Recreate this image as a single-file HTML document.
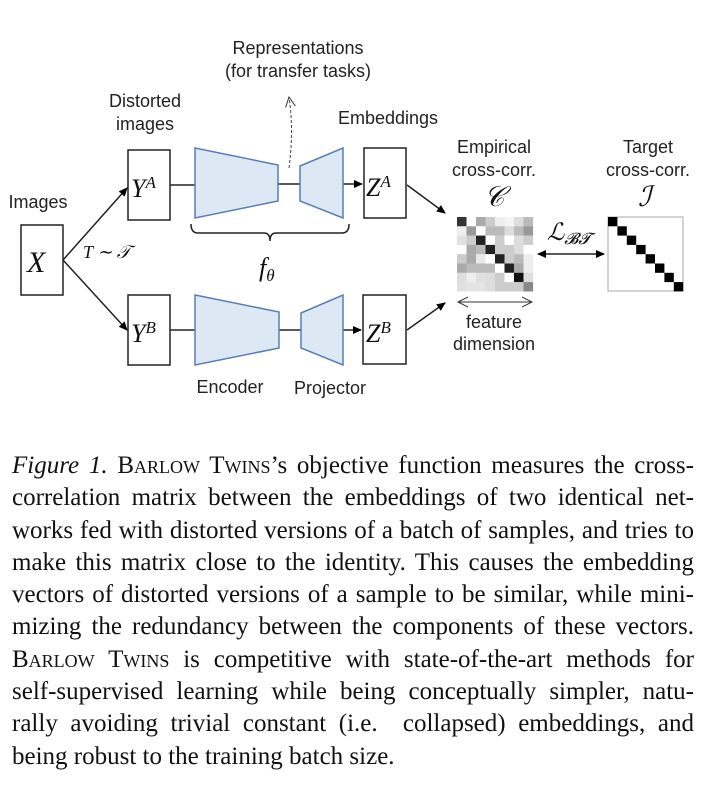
<!DOCTYPE html>
<html><head><meta charset="utf-8"><style>
html,body{margin:0;padding:0;background:#fff;}
body{width:710px;height:790px;position:relative;overflow:hidden;}
.cap{position:absolute;left:12px;width:682px;font-family:"Liberation Serif",serif;font-size:25px;color:#111;line-height:32.3px;}
.cap div{text-align:justify;text-align-last:justify;white-space:nowrap;height:32.3px}
.cap div.l{text-align-last:left}
.sc{font-variant:small-caps}
</style></head><body>
<svg width="710" height="430" style="position:absolute;left:0;top:0" font-family="Liberation Sans, sans-serif" font-size="18" fill="#222">
<defs>
<marker id="ah" markerWidth="10" markerHeight="10" refX="8" refY="5" orient="auto" markerUnits="userSpaceOnUse"><path d="M0,1 L9,5 L0,9 Z" fill="#000"/></marker>
<marker id="ahs" markerWidth="10" markerHeight="10" refX="8" refY="5" orient="auto-start-reverse" markerUnits="userSpaceOnUse"><path d="M0,1 L9,5 L0,9 Z" fill="#000"/></marker>
<marker id="ao" markerWidth="12" markerHeight="12" refX="10" refY="6" orient="auto-start-reverse" markerUnits="userSpaceOnUse"><path d="M0,1 L10,6 L0,11" fill="none" stroke="#333" stroke-width="1"/></marker>
</defs>
<g text-anchor="middle">
<text x="298" y="54">Representations</text>
<text x="298" y="77">(for transfer tasks)</text>
<text x="145" y="107">Distorted</text>
<text x="145" y="130">images</text>
<text x="388" y="124">Embeddings</text>
<text x="38" y="208">Images</text>
<text x="230" y="393">Encoder</text>
<text x="330" y="394">Projector</text>
<text x="494" y="153">Empirical</text>
<text x="494" y="176">cross-corr.</text>
<text x="648" y="153">Target</text>
<text x="648" y="176">cross-corr.</text>
<text x="494" y="328">feature</text>
<text x="494" y="350">dimension</text>
</g>
<g fill="none" stroke="#222" stroke-width="1.5">
<rect x="21" y="225" width="42" height="70"/>
<rect x="128" y="150" width="42" height="70"/>
<rect x="128" y="295" width="42" height="70"/>
<rect x="364" y="148" width="42" height="70"/>
<rect x="363" y="295" width="43" height="69"/>
<line x1="170" y1="185" x2="195" y2="185"/><line x1="278" y1="184" x2="300" y2="184"/>
<line x1="170" y1="330" x2="195" y2="330"/><line x1="279" y1="330" x2="301" y2="330"/>
<line x1="343" y1="184" x2="362" y2="184" marker-end="url(#ah)"/>
<line x1="343" y1="330" x2="361" y2="330" marker-end="url(#ah)"/>
<line x1="63" y1="260" x2="127" y2="188" marker-end="url(#ah)"/>
<line x1="63" y1="260" x2="127" y2="330" marker-end="url(#ah)"/>
<line x1="407" y1="185" x2="445" y2="213" marker-end="url(#ah)"/>
<line x1="407" y1="330" x2="445" y2="303" marker-end="url(#ah)"/>
<path d="M191,224 Q191,233 198,233 L264,233 Q270,233 270,241 Q270,233 276,233 L342,233 Q349,233 349,224"/>
<line x1="538" y1="254" x2="604" y2="254" marker-start="url(#ahs)" marker-end="url(#ahs)"/>
</g>
<path d="M289,168 Q294,130 289,97" fill="none" stroke="#444" stroke-width="1" stroke-dasharray="3,2" marker-end="url(#ao)"/>
<line x1="458" y1="302" x2="532" y2="302" stroke="#333" stroke-width="1" marker-start="url(#ao)" marker-end="url(#ao)"/>
<g fill="#dde8f5" stroke="#5a7db5" stroke-width="1.5">
<polygon points="195,148 278,165 278,201 195,218"/>
<polygon points="300,166 343,148 343,218 300,201"/>
<polygon points="195,295 279,312 279,348 195,365"/>
<polygon points="301,313 343,295 343,365 301,348"/>
</g>
<g font-family="Liberation Serif, serif" font-style="italic" fill="#111">
<text x="27" y="272" font-size="30">X</text>
<text x="131" y="197" font-size="26">Y<tspan font-size="17" dy="-9">A</tspan></text>
<text x="131" y="342" font-size="26">Y<tspan font-size="17" dy="-9">B</tspan></text>
<text x="366" y="196" font-size="26">Z<tspan font-size="17" dy="-9">A</tspan></text>
<text x="366" y="342" font-size="26">Z<tspan font-size="17" dy="-9">B</tspan></text>
<text x="83" y="258" font-size="18">T ∼ 𝒯</text>
<text x="259" y="276" font-size="26">f<tspan font-size="17" dy="5">θ</tspan></text>
<text x="484" y="206" font-size="28">𝒞</text>
<text x="638" y="206" font-size="28">ℐ</text>
<text x="547" y="240" font-size="24">ℒ<tspan font-size="16" dy="4">𝓑𝓣</tspan></text>
</g>
<g id="C"></g>
<rect x="608" y="217" width="75" height="74" fill="#fff" stroke="#aaa" stroke-width="1"/>
<g fill="#000">
<rect x="608" y="217" width="9.4" height="9.3"/><rect x="617.4" y="226.3" width="9.4" height="9.3"/><rect x="626.8" y="235.6" width="9.4" height="9.3"/><rect x="636.2" y="244.9" width="9.4" height="9.3"/><rect x="645.6" y="254.2" width="9.4" height="9.3"/><rect x="655" y="263.5" width="9.4" height="9.3"/><rect x="664.4" y="272.8" width="9.4" height="9.3"/><rect x="673.8" y="282.1" width="9.4" height="9.3"/>
</g>
</svg>
<script>
var v=[[0x33,0xff,0xaa,0xcc,0xee,0xf4,0xdd,0xbb],[0xee,0x99,0xff,0xbb,0xbb,0xdd,0xbb,0x99],[0xe0,0xcc,0x22,0xff,0xcc,0xff,0xdd,0xcc],[0xff,0xaa,0xbb,0x22,0xcc,0xcc,0xdd,0xff],[0xcc,0xaa,0xe8,0xff,0x22,0xcc,0xbb,0xee],[0xaa,0xbb,0xbb,0xbb,0xff,0x22,0xaa,0xee],[0xdd,0xee,0xe0,0xdd,0xcc,0xff,0x11,0xdd],[0xe0,0xe4,0xe4,0xdd,0xcc,0xcc,0xcc,0x88]];
var g=document.getElementById('C'),s='';
for(var r=0;r<8;r++)for(var c=0;c<8;c++){var h=v[r][c];s+='<rect x="'+(457+c*9.5)+'" y="'+(217+r*9.3)+'" width="9.6" height="9.4" fill="rgb('+h+','+h+','+h+')"/>';}
g.innerHTML=s;
</script>
<div class="cap" style="top:450px">
<div><i>Figure 1.</i> <span class="sc">Barlow Twins</span>’s objective function measures the cross-</div>
<div>correlation matrix between the embeddings of two identical net-</div>
<div>works fed with distorted versions of a batch of samples, and tries to</div>
<div>make this matrix close to the identity. This causes the embedding</div>
<div>vectors of distorted versions of a sample to be similar, while mini-</div>
<div>mizing the redundancy between the components of these vectors.</div>
<div><span class="sc">Barlow Twins</span> is competitive with state-of-the-art methods for</div>
<div>self-supervised learning while being conceptually simpler, natu-</div>
<div>rally avoiding trivial constant (i.e. &nbsp;collapsed) embeddings, and</div>
<div class="l">being robust to the training batch size.</div>
</div>
</body></html>
